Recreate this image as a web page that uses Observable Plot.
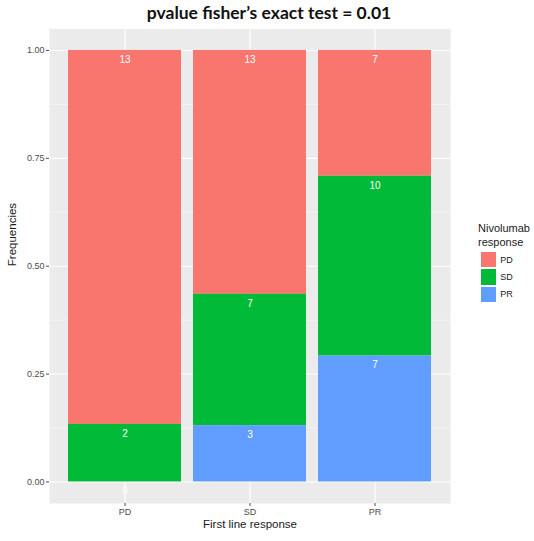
<!DOCTYPE html>
<html>
<head>
<meta charset="utf-8">
<script src="https://cdn.jsdelivr.net/npm/d3@7"></script>
<script src="https://cdn.jsdelivr.net/npm/@observablehq/plot@0.6"></script>
<style>
  body { margin: 0; background: white; }
  #wrap { position: relative; width: 534px; height: 541px; font-family: "Liberation Sans", Arial, sans-serif; }
  #title { position: absolute; left: 0; top: 2px; width: 538px; text-align: center; font-family: Lato, "Open Sans", sans-serif; font-weight: bold; font-size: 17.5px; color: #111; }
  #legend { position: absolute; left: 478px; top: 221px; font-size: 11px; color: #1a1a1a; }
  .lt { line-height: 14px; }
  .key { display: flex; align-items: center; height: 17.3px; }
  .sw { width: 17.3px; height: 17.3px; box-sizing: border-box; border: 1px solid white; margin-left: 2px; }
  .kl { font-size: 9px; margin-left: 3px; color: #1a1a1a; }
  #chart svg { position: absolute; left: 0; top: 0; }
</style>
</head>
<body>
<div id="wrap">
  <div id="chart"></div>
  <div id="title">pvalue fisher’s exact test = 0.01</div>
  <div id="legend"></div>
</div>
<script>
// Data
const firstLine = ["PD", "SD", "PR"];          // x categories (first line response)
const nivoResponse = ["PD", "SD", "PR"];       // fill categories (Nivolumab response)
const countsNivoPD = [13, 13, 7];
const countsNivoSD = [2, 7, 10];
const countsNivoPR = [0, 3, 7];
const yTicks = [0, 0.25, 0.5, 0.75, 1];
const yMinor = [0.125, 0.375, 0.625, 0.875];
const colors = ["#F8766D", "#00BA38", "#619CFF"];

const seriesCounts = {PD: countsNivoPD, SD: countsNivoSD, PR: countsNivoPR};
const data = [];
nivoResponse.forEach(r => firstLine.forEach((f, i) => data.push({first: f, resp: r, count: seriesCounts[r][i]})));
const stackOrder = ["PR", "SD", "PD"];

const plot = Plot.plot({
  width: 534,
  height: 541,
  marginTop: 28.4,
  marginBottom: 38,
  marginLeft: 49,
  marginRight: 84,
  style: {fontFamily: "'Liberation Sans', Arial, sans-serif", background: "transparent"},
  x: {domain: firstLine, paddingInner: 0.1, paddingOuter: 0.15, label: null},
  y: {domain: [-0.05, 1.05], label: null},
  color: {domain: nivoResponse, range: colors},
  marks: [
    Plot.frame({fill: "#EBEBEB"}),
    Plot.ruleY(yMinor, {stroke: "white", strokeWidth: 0.5}),
    Plot.ruleY(yTicks, {stroke: "white", strokeWidth: 1.1}),
    Plot.ruleX(firstLine, {x: d => d, stroke: "white", strokeWidth: 1.1}),
    Plot.barY(data, {x: "first", y: "count", fill: "resp", z: "resp", order: stackOrder, offset: "normalize"}),
    Plot.text(data, Plot.stackY2({x: "first", y: "count", z: "resp", order: stackOrder, offset: "normalize",
      text: d => String(d.count), fill: "white", fontSize: 10, dy: 9})),
    Plot.axisY({ticks: yTicks, tickFormat: d3.format(".2f"), tickSize: 3, tickPadding: 2, fontSize: 9, color: "#4D4D4D", label: null}),
    Plot.axisX({tickSize: 3, tickPadding: 2, fontSize: 9, color: "#4D4D4D", label: null}),
    Plot.text(["Frequencies"], {text: d => d, frameAnchor: "left", dx: -37, rotate: -90, fontSize: 11.5, fill: "#1a1a1a"}),
    Plot.text(["First line response"], {text: d => d, frameAnchor: "bottom", dy: 24, fontSize: 11.5, fill: "#1a1a1a"})
  ]
});
document.getElementById("chart").appendChild(plot);

// Legend from color scale
const colorScale = plot.scale("color");
const leg = document.getElementById("legend");
leg.innerHTML = '<div class="lt">Nivolumab</div><div class="lt" style="margin-bottom:2px">response</div>';
const colorFn = d3.scaleOrdinal(colorScale.domain, colorScale.range);
nivoResponse.forEach(r => {
  const k = document.createElement("div");
  k.className = "key";
  k.innerHTML = `<div class="sw" style="background:${colorFn(r)}"></div><span class="kl">${r}</span>`;
  leg.appendChild(k);
});
</script>
</body>
</html>
